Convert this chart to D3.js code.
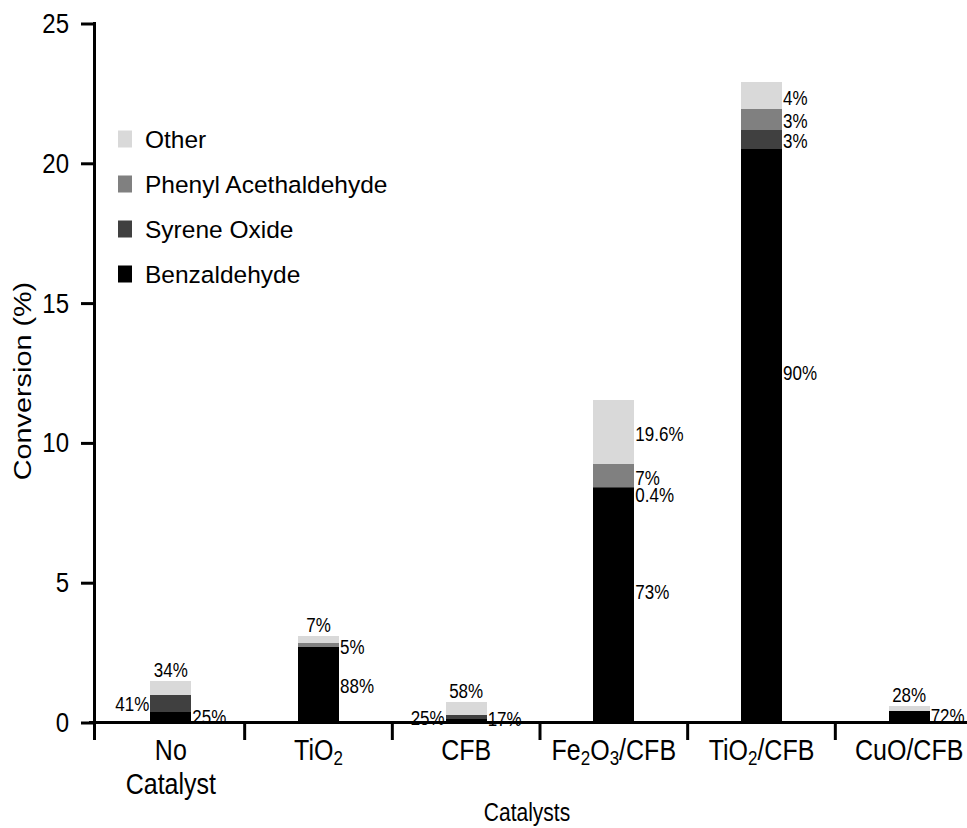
<!DOCTYPE html>
<html>
<head>
<meta charset="utf-8">
<script src="https://cdn.jsdelivr.net/npm/d3@7"></script>
<style>
  body { margin: 0; background: #fff; }
  text { font-family: "Liberation Sans", Arial, sans-serif; fill: #000; }
</style>
</head>
<body>
<div id="chart"></div>
<script>
// data
var categories = ["No Catalyst", "TiO_2", "CFB", "Fe_2O_3/CFB", "TiO_2/CFB", "CuO/CFB"];
var seriesNames = ["Benzaldehyde", "Syrene Oxide", "Phenyl Acethaldehyde", "Other"];
var benzaldehyde = [0.37, 2.69, 0.10, 8.37, 20.5, 0.40];
var syreneOxide  = [0.60, 0,    0.15, 0.04, 0.67, 0];
var phenylAcet   = [0,    0.14, 0,    0.81, 0.76, 0];
var other        = [0.50, 0.25, 0.48, 2.29, 0.95, 0.17];

var benzLabels   = ["25%", "88%", "17%", "73%", "90%", "72%"];
var syreneLabels = ["41%", "",    "25%", "0.4%", "3%", ""];
var phenylLabels = ["",    "5%",  "",    "7%",  "3%", ""];
var otherLabels  = ["34%", "7%",  "58%", "19.6%", "4%", "28%"];

var yTicks = [0, 5, 10, 15, 20, 25];

// where the % labels sit (top of bar, left or right of it)
var labelSide = {
  "Other": ["top", "top", "top", "right", "right", "top"],
  "Syrene Oxide": ["left", "right", "left", "right", "right", "right"]
};
var benzNudge = [-2, 0, -4, -15, -64, -2];

var width = 967, height = 828;
var svg = d3.select("#chart")
  .append("svg")
    .attr("width", width)
    .attr("height", height);

var x = d3.scaleBand().domain(categories).range([97, 983]);
var y = d3.scaleLinear().domain([0, 25]).range([722, 23]);
var barW = 41;

var color = d3.scaleOrdinal()
  .domain(seriesNames)
  .range(["#000000", "#404040", "#808080", "#d9d9d9"]);

var rows = categories.map(function(c, i) {
  return {
    cat: c,
    "Benzaldehyde": benzaldehyde[i],
    "Syrene Oxide": syreneOxide[i],
    "Phenyl Acethaldehyde": phenylAcet[i],
    "Other": other[i]
  };
});
var stacked = d3.stack().keys(seriesNames)(rows);

function cx(c) { return x(c) + x.bandwidth() / 2; }

// stretched text (the original picture is taller than it is wide)
function stretchText(g, px, py, k) {
  return g.append("text").attr("transform", "translate(" + px + "," + py + ") scale(1," + k + ")");
}

// bars
svg.append("g")
  .selectAll("g")
  .data(stacked)
  .enter()
  .append("g")
    .attr("fill", function(d) { return color(d.key); })
  .selectAll("rect")
  .data(function(d) { return d; })
  .enter()
  .append("rect")
    .attr("x", function(d) { return cx(d.data.cat) - barW / 2; })
    .attr("y", function(d) { return y(d[1]); })
    .attr("width", barW)
    .attr("height", function(d) { return y(d[0]) - y(d[1]); })
    .attr("shape-rendering", "crispEdges");

// percentage labels
var labelSets = {
  "Benzaldehyde": benzLabels,
  "Syrene Oxide": syreneLabels,
  "Phenyl Acethaldehyde": phenylLabels,
  "Other": otherLabels
};
var labG = svg.append("g").style("font-size", "17px");
categories.forEach(function(c, i) {
  var lastRight = -Infinity;
  var top = y(stacked[stacked.length - 1][i][1]);
  for (var s = stacked.length - 1; s >= 0; s--) {
    var key = stacked[s].key;
    var txt = labelSets[key][i];
    if (!txt) continue;
    var seg = stacked[s][i];
    var mid = (y(seg[0]) + y(seg[1])) / 2;
    var side = labelSide[key] ? labelSide[key][i] : "right";
    var t;
    if (side == "top") {
      t = stretchText(labG, cx(c), top - 4, 1.18).attr("text-anchor", "middle");
    } else if (side == "left") {
      t = stretchText(labG, cx(c) - barW / 2 - 1, mid + 8, 1.18).attr("text-anchor", "end");
    } else {
      var by = Math.max(mid + 9, lastRight + 17);
      if (key == "Benzaldehyde") by += benzNudge[i];
      lastRight = by;
      t = stretchText(labG, cx(c) + barW / 2 + 1, by, 1.18).attr("text-anchor", "start");
    }
    t.text(txt);
  }
});

// axes
var axG = svg.append("g").attr("stroke", "#000").attr("stroke-width", 3);
axG.append("line").attr("x1", 89).attr("x2", width).attr("y1", y(0) + 0.5).attr("y2", y(0) + 0.5);
axG.append("line").attr("x1", 94.5).attr("x2", 94.5).attr("y1", y(25) - 1).attr("y2", 740);
axG.selectAll(".ytick")
  .data(yTicks)
  .enter()
  .append("line")
    .attr("x1", 81).attr("x2", 94.5)
    .attr("y1", function(d) { return y(d) + 1; })
    .attr("y2", function(d) { return y(d) + 1; });
axG.selectAll(".xtick")
  .data(categories.slice(1))
  .enter()
  .append("line")
    .attr("x1", function(d) { return x(d); })
    .attr("x2", function(d) { return x(d); })
    .attr("y1", y(0)).attr("y2", 740);

// y tick labels
var ytG = svg.append("g").style("font-size", "24px");
yTicks.forEach(function(v) {
  stretchText(ytG, 69, y(v), 1.15)
    .attr("text-anchor", "end")
    .attr("dy", "0.36em")
    .text(v);
});

// x tick labels, with subscripts
var xtG = svg.append("g").style("font-size", "25px");
categories.forEach(function(c) {
  var t = stretchText(xtG, cx(c), 760, 1.2).attr("text-anchor", "middle");
  if (c == "No Catalyst") {
    t.append("tspan").attr("x", 0).text("No");
    t.append("tspan").attr("x", 0).attr("dy", 28.5).text("Catalyst");
    return;
  }
  var back = 0;
  c.split(/(_\d)/).forEach(function(part) {
    if (!part) return;
    if (part[0] == "_") {
      t.append("tspan").attr("dy", 4).style("font-size", "17px").text(part.slice(1));
      back = -4;
    } else {
      t.append("tspan").attr("dy", back).text(part);
      back = 0;
    }
  });
});

// axis titles
stretchText(svg, 527, 821, 1.2)
  .attr("text-anchor", "middle")
  .style("font-size", "21px")
  .text("Catalysts");

svg.append("text")
  .attr("transform", "translate(31,381) rotate(-90) scale(1.2,1)")
  .attr("text-anchor", "middle")
  .style("font-size", "24px")
  .text("Conversion (%)");

// legend
var legend = svg.append("g").style("font-size", "24.5px");
var legendOrder = ["Other", "Phenyl Acethaldehyde", "Syrene Oxide", "Benzaldehyde"];
legendOrder.forEach(function(k, i) {
  var ly = 139 + i * 45;
  legend.append("rect")
    .attr("x", 118).attr("y", ly - 8.5)
    .attr("width", 14).attr("height", 17)
    .attr("fill", color(k));
  legend.append("text")
    .attr("x", 145).attr("y", ly + 9)
    .text(k);
});
</script>
</body>
</html>
